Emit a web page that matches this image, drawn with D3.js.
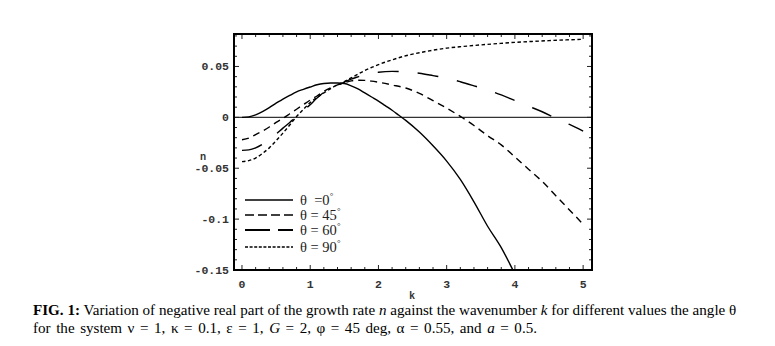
<!DOCTYPE html>
<html><head><meta charset="utf-8">
<script src="https://cdn.jsdelivr.net/npm/d3@7"></script>
<style>
html,body{margin:0;padding:0;background:#fff;}
svg{display:block;}
</style></head>
<body>
<script>
// ---- data ----
const kSolid = [0,0.1,0.2,0.3,0.4,0.5,0.6,0.7,0.8,0.9,1.0,1.1,1.2,1.3,1.4,1.5,1.6,1.7,1.8,1.9,2.0,2.1,2.2,2.3,2.4,2.6,2.8,3.0,3.2,3.4,3.6,3.8,3.97];
const nTheta0 = [0,0.0005,0.0025,0.0057,0.0095,0.014,0.0178,0.0215,0.025,0.0275,0.0298,0.032,0.0333,0.0338,0.0337,0.0332,0.031,0.028,0.024,0.020,0.016,0.0115,0.007,0.002,-0.003,-0.0145,-0.028,-0.043,-0.061,-0.083,-0.107,-0.128,-0.15];

const k45 = [0,0.1,0.2,0.3,0.4,0.5,0.6,0.7,0.8,0.9,1.0,1.1,1.2,1.3,1.4,1.5,1.6,1.7,1.8,1.9,2.0,2.2,2.4,2.6,2.8,3.0,3.2,3.4,3.6,3.8,4.0,4.2,4.4,4.6,4.8,5.0];
const nTheta45 = [-0.022,-0.0205,-0.017,-0.0135,-0.0095,-0.005,-0.001,0.0035,0.008,0.0125,0.017,0.021,0.0255,0.029,0.032,0.034,0.0358,0.0365,0.0363,0.0356,0.0345,0.0318,0.0288,0.0235,0.0165,0.009,0.001,-0.008,-0.018,-0.027,-0.039,-0.051,-0.063,-0.077,-0.091,-0.105];

const k60 = [0,0.1,0.2,0.3,0.4,0.5,0.6,0.7,0.8,0.9,1.0,1.1,1.2,1.3,1.4,1.5,1.6,1.7,1.8,1.9,2.0,2.2,2.4,2.6,2.8,3.0,3.2,3.4,3.6,3.8,4.0,4.2,4.4,4.6,4.8,5.0];
const nTheta60 = [-0.0325,-0.032,-0.03,-0.0265,-0.022,-0.0165,-0.0106,-0.005,0.001,0.0068,0.0125,0.019,0.0245,0.0285,0.0315,0.0345,0.0375,0.0398,0.0418,0.0432,0.0443,0.0452,0.0447,0.0433,0.041,0.0385,0.035,0.031,0.0268,0.022,0.0165,0.011,0.0055,-0.001,-0.007,-0.0135];

const k90 = [0,0.1,0.2,0.3,0.4,0.5,0.6,0.7,0.8,0.9,1.0,1.1,1.2,1.3,1.4,1.5,1.6,1.7,1.8,1.9,2.0,2.2,2.4,2.6,2.8,3.0,3.25,3.5,3.75,4.0,4.25,4.5,4.75,5.0];
const nTheta90 = [-0.0435,-0.0425,-0.040,-0.0355,-0.030,-0.023,-0.0155,-0.0075,0.0008,0.0078,0.0145,0.0195,0.024,0.0283,0.032,0.0352,0.0388,0.0425,0.046,0.049,0.0518,0.0565,0.0605,0.0635,0.066,0.068,0.0697,0.0712,0.0725,0.0737,0.0746,0.0754,0.0761,0.0767];

const xTickValues = [0,1,2,3,4,5];
const xTickLabels = ["0","1","2","3","4","5"];
const yTickValues = [0.05,0,-0.05,-0.1,-0.15];
const yTickLabels = ["0.05","0","-0.05","-0.1","-0.15"];
const legendNames = ["θ\u2002=0","θ = 45","θ = 60","θ = 90"];

const series = [
  {k:k45, n:nTheta45, dash:"7,5", legDash:"9,4"},
  {k:k60, n:nTheta60, dash:"21,19", legDash:"25,8"},
  {k:k90, n:nTheta90, dash:"3.5,2.5", legDash:"3,1.6"},
  {k:kSolid, n:nTheta0, dash:null, legDash:null}
];

// ---- layout ----
const W=775,H=346;
const svg=d3.select("body").append("svg").attr("width",W).attr("height",H);
svg.append("rect").attr("width",W).attr("height",H).attr("fill","#fff");

const L=234,R=592,T=34,B=270;
const x=d3.scaleLinear().domain([-0.117,5.13]).range([L,R]);
const y=d3.scaleLinear().domain([-0.15,0.0819]).range([B,T]);

svg.append("clipPath").attr("id","clip").append("rect")
  .attr("x",L).attr("y",T).attr("width",R-L).attr("height",B-T);

// zero line
svg.append("line").attr("x1",L).attr("x2",R).attr("y1",y(0)).attr("y2",y(0))
  .attr("stroke","#333").attr("stroke-width",1.4);

// ticks (inside)
const g=svg.append("g").attr("stroke","#222").attr("stroke-width",1);
d3.range(0,5.01,0.2).forEach(v=>{
  const isMaj=Math.abs(v-Math.round(v))<1e-6;
  const len=isMaj?5:3;
  g.append("line").attr("x1",x(v)).attr("x2",x(v)).attr("y1",B).attr("y2",B-len);
  g.append("line").attr("x1",x(v)).attr("x2",x(v)).attr("y1",T).attr("y2",T+len);
});
d3.range(-0.14,0.081,0.01).forEach(v=>{
  const isMaj=Math.abs(v*20-Math.round(v*20))<1e-6;
  const len=isMaj?5:3;
  g.append("line").attr("y1",y(v)).attr("y2",y(v)).attr("x1",L).attr("x2",L+len);
  g.append("line").attr("y1",y(v)).attr("y2",y(v)).attr("x1",R).attr("x2",R-len);
});

// curves
const plot=svg.append("g").attr("clip-path","url(#clip)");
series.forEach(s=>{
  const pts=s.k.map((kv,i)=>[kv,s.n[i]]);
  plot.append("path").datum(pts)
    .attr("d",d3.line().x(d=>x(d[0])).y(d=>y(d[1])).curve(d3.curveMonotoneX))
    .attr("fill","none").attr("stroke","#000").attr("stroke-width",1.4)
    .attr("stroke-dasharray",s.dash);
});

// frame
svg.append("rect").attr("x",L).attr("y",T).attr("width",R-L).attr("height",B-T)
  .attr("fill","none").attr("stroke","#000").attr("stroke-width",2);

// tick labels
const tickFont="'Liberation Mono','DejaVu Sans Mono',monospace";
svg.append("g").selectAll("text").data(yTickValues).join("text")
  .attr("x",229).attr("y",d=>y(d)+4).attr("text-anchor","end")
  .attr("font-family",tickFont).attr("font-size",11.5).attr("font-weight","bold").attr("fill","#333")
  .text((d,i)=>yTickLabels[i]);
svg.append("g").selectAll("text").data(xTickValues).join("text")
  .attr("x",d=>x(d)).attr("y",288).attr("text-anchor","middle")
  .attr("font-family",tickFont).attr("font-size",11.5).attr("font-weight","bold").attr("fill","#333")
  .text((d,i)=>xTickLabels[i]);

// axis labels
svg.append("text").attr("x",203).attr("y",160).attr("text-anchor","middle")
  .attr("font-family","'Liberation Sans',sans-serif").attr("font-size",10).attr("font-weight","bold").attr("fill","#333").text("n");
svg.append("text").attr("x",412).attr("y",299).attr("text-anchor","middle")
  .attr("font-family","'Liberation Sans',sans-serif").attr("font-size",10).attr("font-weight","bold").attr("fill","#333").text("k");

// legend
const legOrder=[3,0,1,2];
const legY=[200,215,230,247];
legOrder.forEach((si,i)=>{
  const s=series[si];
  svg.append("line").attr("x1",245).attr("x2",293).attr("y1",legY[i]).attr("y2",legY[i])
    .attr("stroke","#000").attr("stroke-width",si===1?2:1.4).attr("stroke-dasharray",s.legDash);
  const t=svg.append("text").attr("x",300).attr("y",legY[i]+5)
    .attr("font-family","'Liberation Serif',serif").attr("font-size",14.5).attr("fill","#222");
  t.append("tspan").text(legendNames[i]);
  t.append("tspan").attr("font-size",9).attr("dy",-6).text("°");
});

// caption
const cap=svg.append("g").attr("font-family","'Liberation Serif','Times New Roman',serif").attr("fill","#000");
const l1=cap.append("text").attr("x",33).attr("y",315);
l1.append("tspan").attr("font-weight","bold").text("FIG. 1:");
l1.append("tspan").text(" Variation of negative real part of the growth rate ");
l1.append("tspan").attr("font-style","italic").text("n");
l1.append("tspan").text(" against the wavenumber ");
l1.append("tspan").attr("font-style","italic").text("k");
l1.append("tspan").text(" for different values the angle θ");
const l2=cap.append("text").attr("x",33).attr("y",333);
l2.append("tspan").text("for the system ν = 1, κ = 0.1, ε = 1, ");
l2.append("tspan").attr("font-style","italic").text("G");
l2.append("tspan").text(" = 2, φ = 45 deg, α = 0.55, and ");
l2.append("tspan").attr("font-style","italic").text("a");
l2.append("tspan").text(" = 0.5.");
let fs=15;
cap.attr("font-size",fs);
const w1=l1.node().getComputedTextLength();
fs=fs*704/w1;
cap.attr("font-size",fs);
const w2=l2.node().getComputedTextLength();
const nSpaces=(l2.text().match(/ /g)||[]).length;
l2.attr("word-spacing",Math.max(0,(504-w2)/nSpaces));
</script>
</body></html>
